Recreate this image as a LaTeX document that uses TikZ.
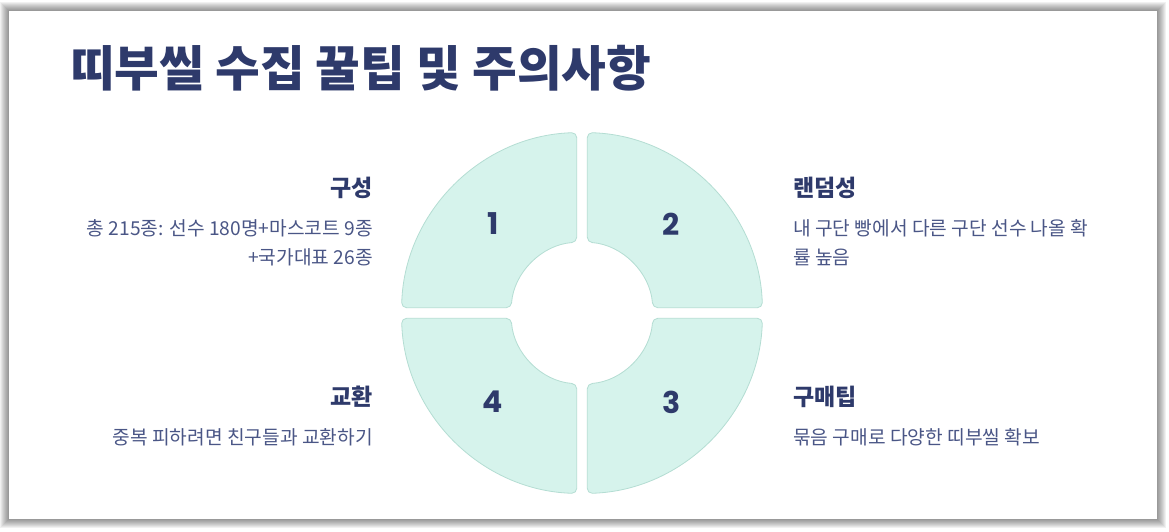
\documentclass[tikz,border=0pt]{standalone}
\usepackage{fontspec}
\setmainfont{Noto Sans CJK KR}
\newfontfamily\numfont{Poppins}
\usetikzlibrary{positioning}
\definecolor{navy}{HTML}{2E3A6B}
\definecolor{bodytext}{HTML}{4A5686}
\definecolor{mint}{HTML}{D6F3EC}
\definecolor{mintline}{HTML}{B4DDD3}

\begin{document}
\begin{tikzpicture}[x=1pt, y=1pt,
		seg/.style = {fill=mint, draw=mintline, line width=0.8pt, rounded corners=5pt},
		num/.style = {navy, font=\numfont\bfseries\fontsize{30}{30}\selectfont},
		head/.style = {navy, inner sep=0, font=\bfseries\fontsize{23}{23}\selectfont},
		desc/.style = {bodytext, inner sep=0, font=\fontsize{19.2}{29}\selectfont}]
		\useasboundingbox (0,0) rectangle (1169,-531);
		% card with soft shadow
		\foreach \i in {1,...,9}
			\fill [black, opacity=0.055] (9-\i,-11+\i) rectangle (1157+\i,-519-\i);
		\fill [white] (9,-11) rectangle (1157,-519);
		\node (title) [navy, anchor=base west, inner sep=0, font=\bfseries\fontsize{48.6}{48.6}\selectfont] at (70,-86.5) {띠부씰 수집 꿀팁 및 주의사항};
		% ring
		\coordinate (c) at (582,-313);
		\begin{scope}[shift={(c)}]
			\foreach \s in {0,90,180,270}
				\draw [seg] ({\s+1.68}:180.5) arc [start angle={\s+1.68}, end angle={\s+88.32}, radius=180.5]
					-- ({\s+85.72}:71) arc [start angle={\s+85.72}, end angle={\s+4.28}, radius=71] -- cycle;
			\node (n1) [num] at (135:126) {1};
			\node (n2) [num] at (45:126) {2};
			\node (n3) [num] at (-45:126) {3};
			\node (n4) [num] at (-135:126) {4};
		\end{scope}
		% left side
		\node (h1) [head, anchor=base east] at (373,-196.5) {구성};
		\node (d1) [desc, anchor=north east, align=right] at (373,-219) {총 215종: 선수 180명+마스코트 9종\\+국가대표 26종};
		\node (h4) [head, anchor=base east] at (373,-405.5) {교환};
		\node (d4) [desc, anchor=north east, align=right] at (373,-428) {중복 피하려면 친구들과 교환하기};
		% right side
		\node (h2) [head, anchor=base west] at (793,-196.5) {랜덤성};
		\node (d2) [desc, anchor=north west, align=left] at (793,-219) {내 구단 빵에서 다른 구단 선수 나올 확\\률 높음};
		\node (h3) [head, anchor=base west] at (793,-405.5) {구매팁};
		\node (d3) [desc, anchor=north west, align=left] at (793,-428) {묶음 구매로 다양한 띠부씰 확보};
	\end{tikzpicture}
\end{document}
